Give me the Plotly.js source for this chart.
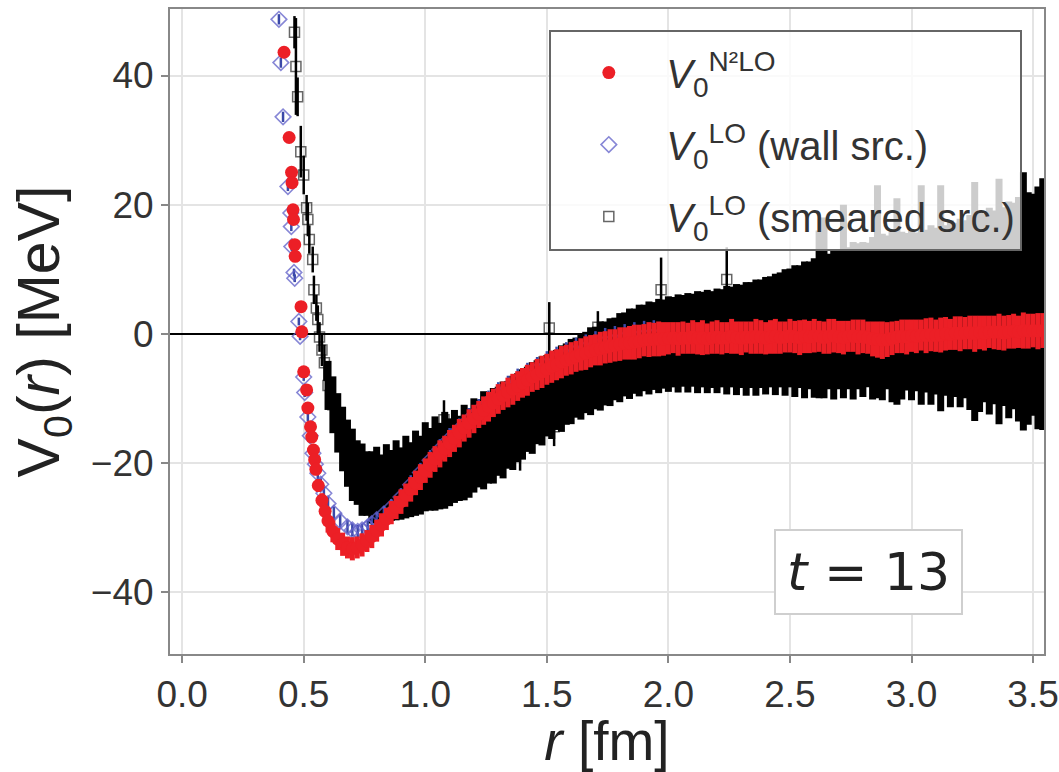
<!DOCTYPE html>
<html><head><meta charset="utf-8">
<script src="https://cdn.plot.ly/plotly-3.0.1.min.js"></script>
<style>html,body{margin:0;padding:0;background:#fff}#chart{width:1059px;height:772px}</style>
</head><body><div id="chart"></div>
<script>
// shared r grid (fm) for the dense part of the data
const rGrid = [
0.60,0.62,0.64,0.66,0.68,0.70,0.72,0.74,0.76,0.78,
0.80,0.82,0.84,0.86,0.88,0.90,0.92,0.94,0.96,0.98,
1.00,1.02,1.04,1.06,1.08,1.10,1.12,1.14,1.16,1.18,
1.20,1.22,1.24,1.26,1.28,1.30,1.32,1.34,1.36,1.38,
1.40,1.42,1.44,1.46,1.48,1.50,1.52,1.54,1.56,1.58,
1.60,1.62,1.64,1.66,1.68,1.70,1.72,1.74,1.76,1.78,
1.80,1.82,1.84,1.86,1.88,1.90,1.92,1.94,1.96,1.98,
2.00,2.02,2.04,2.06,2.08,2.10,2.12,2.14,2.16,2.18,
2.20,2.22,2.24,2.26,2.28,2.30,2.32,2.34,2.36,2.38,
2.40,2.42,2.44,2.46,2.48,2.50,2.52,2.54,2.56,2.58,
2.60,2.62,2.64,2.66,2.68,2.70,2.72,2.74,2.76,2.78,
2.80,2.82,2.84,2.86,2.88,2.90,2.92,2.94,2.96,2.98,
3.00,3.02,3.04,3.06,3.08,3.10,3.12,3.14,3.16,3.18,
3.20,3.22,3.24,3.26,3.28,3.30,3.32,3.34,3.36,3.38,
3.40,3.42,3.44,3.46,3.48,3.50,3.52,3.54];

// V0^{N2LO} (red)
const redWallR = [0.419,0.440,0.450,0.452,0.456,0.458,0.463,0.465,0.489,0.492,0.500,0.512,0.517,0.528,0.533,0.540,0.545,0.550,0.560,0.575,0.588];
const redWallV = [43.6,30.4,25.0,23.4,19.2,17.7,13.8,12.0,4.2,0.3,-5.9,-8.7,-11.5,-14.4,-16.0,-18.0,-19.5,-21.0,-23.5,-25.8,-27.5];
const redWallErr = [0.8,0.8,0.7,0.7,0.7,0.6,0.6,0.6,0.6,0.6,0.7,0.7,0.7,0.8,0.8,0.8,0.9,0.9,1.0,1.1,1.2];
const redGridV = [
-29.0,-30.6,-31.8,-32.6,-33.1,-33.3,-33.1,-32.7,-32.1,-31.4,
-30.5,-29.6,-28.7,-27.7,-26.9,-26.0,-25.0,-24.1,-23.1,-22.2,
-21.2,-20.3,-19.4,-18.6,-17.8,-17.0,-16.2,-15.4,-14.6,-13.9,
-13.2,-12.5,-11.9,-11.3,-10.7,-10.1,-9.6,-9.1,-8.6,-8.1,
-7.6,-7.2,-6.7,-6.3,-5.9,-5.5,-5.1,-4.8,-4.4,-4.1,
-3.8,-3.5,-3.2,-3.0,-2.7,-2.5,-2.3,-2.1,-1.9,-1.8,
-1.6,-1.5,-1.4,-1.3,-1.2,-1.0,-0.9,-0.9,-0.8,-0.8,
-0.7,-0.6,-0.8,-0.6,-0.7,-0.5,-0.7,-0.6,-0.8,-0.6,
-0.5,-0.7,-0.6,-0.4,-0.6,-0.7,-0.5,-0.6,-0.4,-0.5,
-0.7,-0.5,-0.4,-0.6,-0.5,-0.3,-0.5,-0.6,-0.4,-0.5,
-0.3,-0.4,-0.6,-0.4,-0.3,-0.5,-0.6,-0.4,-0.3,-0.5,
-0.4,-0.6,-0.8,-0.9,-1.0,-0.9,-0.7,-0.5,-0.4,-0.5,
-0.3,-0.4,-0.2,-0.3,-0.1,-0.3,-0.2,0.0,-0.1,0.1,
0.0,0.1,0.2,0.0,0.2,0.1,0.3,0.2,0.3,0.1,
0.3,0.4,0.3,0.5,0.4,0.5,0.4,0.5];
const redGridErr = [
1.8,1.7,1.7,1.8,1.7,1.8,1.7,1.8,1.7,1.8,
1.7,1.8,1.7,1.8,1.8,1.9,1.8,1.9,1.9,2.0,
1.9,2.0,2.0,2.1,2.0,2.1,2.1,2.2,2.1,2.2,
2.2,2.1,2.2,2.3,2.2,2.3,2.2,2.3,2.4,2.3,
2.3,2.4,2.3,2.4,2.5,2.4,2.5,2.4,2.5,2.4,
2.5,2.4,2.5,2.6,2.5,2.4,2.6,2.5,2.6,2.5,
2.6,2.5,2.6,2.7,2.6,2.5,2.7,2.6,2.7,2.6,
2.5,2.4,2.6,2.5,2.4,2.6,2.5,2.7,2.4,2.5,
2.6,2.5,2.4,2.7,2.5,2.6,2.4,2.5,2.7,2.6,
2.5,2.6,2.7,2.5,2.4,2.6,2.5,2.7,2.6,2.5,
2.6,2.4,2.5,2.7,2.6,2.5,2.6,2.4,2.5,2.7,
2.6,2.5,2.7,2.8,2.9,2.7,2.6,2.5,2.6,2.7,
2.5,2.6,2.4,2.7,2.6,2.5,2.7,2.6,2.4,2.6,
2.7,2.5,2.6,2.8,2.6,2.7,2.5,2.6,2.8,2.7,
2.6,2.7,2.5,2.8,2.7,2.6,2.8,2.7];

// V0^{LO} wall source (blue)
const blueR = [0.398,0.406,0.415,0.435,0.447,0.449,0.451,0.460,0.463,0.480,
0.485,0.500,0.504,0.517,0.527,0.538,0.548,0.558,0.570,0.583,
0.600,0.624,0.650,0.680,0.700,0.722,0.740,0.763,0.780,0.800,
0.830,0.86,0.90,0.94,0.98,1.02,1.06,1.10,1.14,1.18,
1.22,1.26,1.30,1.34,1.38,1.42,1.46,1.50,1.54,1.58,
1.62,1.66,1.70,1.74,1.78,1.82,1.86,1.90,1.94];
const blueV = [48.7,42.0,33.6,22.8,18.7,16.6,13.5,9.5,8.6,1.9,
-0.4,-6.7,-9.1,-12.9,-15.8,-18.5,-20.2,-21.6,-23.3,-24.7,
-26.3,-27.8,-29.0,-29.9,-30.4,-30.6,-30.4,-29.9,-29.4,-28.8,
-27.9,-26.9,-25.3,-23.4,-21.5,-19.6,-17.9,-16.3,-14.8,-13.3,
-11.9,-10.6,-9.4,-8.4,-7.4,-6.5,-5.6,-4.8,-4.1,-3.4,
-2.8,-2.3,-1.8,-1.4,-1.1,-0.8,-0.6,-0.4,-0.3];
const blueErr = [0.8,0.8,0.8,0.7,0.7,0.7,0.7,0.6,0.6,0.6,
0.6,0.6,0.7,0.7,0.8,0.8,0.8,0.9,0.9,1.0,
1.0,1.0,1.0,1.0,1.0,1.0,1.0,1.0,1.1,1.1,
1.2,1.3,1.4,1.5,1.5,1.6,1.6,1.7,1.7,1.8,
1.8,1.8,1.9,1.9,2.0,2.0,2.0,2.1,2.1,2.1,
2.2,2.2,2.2,2.3,2.3,2.3,2.4,2.4,2.4];

// V0^{LO} smeared source (black): sparse points + dense grid
const blackSparseR = [0.462,0.468,0.475,0.488,0.500,0.512,0.517,0.523,0.537,0.542,0.552,0.558,0.565,0.575,0.585,1.077,1.390,1.510,1.530,1.710,1.970,2.240];
const blackSparseV = [46.7,41.4,36.7,28.2,24.6,19.5,17.7,14.6,11.5,6.8,4.0,2.2,-0.5,-2.5,-4.5,-13.3,-17.2,0.9,-14.4,1.0,6.8,8.4];
const blackSparseErr = [2.5,7.5,3.0,4.0,3.0,2.0,2.6,2.2,2.0,2.2,2.0,2.2,2.3,2.5,2.8,3.0,4.0,4.0,3.0,2.5,5.0,5.0];
const blackGridV = [
-8.0,-11.0,-13.8,-16.3,-18.5,-20.3,-21.5,-22.6,-23.2,-23.8,
-23.3,-23.9,-23.1,-23.5,-22.7,-23.2,-22.2,-22.6,-21.6,-21.9,
-20.6,-21.0,-20.1,-20.5,-19.6,-19.9,-19.0,-19.3,-18.4,-18.5,
-17.3,-17.0,-16.5,-16.2,-15.8,-15.1,-14.9,-14.1,-13.8,-13.0,
-12.5,-11.7,-11.5,-10.6,-10.4,-9.6,-9.5,-8.7,-8.5,-7.8,
-7.4,-6.8,-6.6,-6.0,-5.8,-5.3,-5.0,-4.6,-4.4,-3.9,
-3.7,-3.2,-3.1,-2.7,-2.6,-2.2,-2.2,-1.9,-1.9,-1.6,
-1.6,-1.3,-1.5,-1.1,-1.4,-1.0,-1.3,-0.9,-1.2,-0.9,
-1.1,-0.7,-1.0,-0.5,-0.9,-0.4,-0.8,-0.2,-0.6,0.0,
-0.3,0.3,-0.1,0.6,0.2,0.9,0.4,1.1,0.6,1.3,
0.9,3.0,4.0,1.9,1.4,2.2,5.0,2.4,2.0,2.7,
2.2,2.9,2.4,6.5,2.6,3.3,2.7,5.0,2.8,3.4,
2.8,3.4,6.0,3.5,2.9,3.5,5.5,3.6,3.1,3.7,
3.2,3.8,3.3,5.0,3.4,4.0,3.5,4.1,5.0,4.2,
3.7,4.3,3.8,5.0,3.9,4.5,4.0,4.6];
const blackGridErr = [
3.8,4.4,4.6,5.0,5.2,5.6,5.0,5.6,5.0,5.6,
5.8,5.2,6.0,5.5,6.2,5.6,6.4,5.8,6.6,6.1,
6.9,6.4,7.3,6.7,7.5,6.8,7.2,6.6,7.4,6.9,
7.3,6.8,7.6,7.0,7.4,6.9,7.5,6.8,7.3,6.9,
7.0,6.6,7.1,6.5,6.9,6.3,6.8,6.2,6.7,6.3,
6.6,6.2,6.7,6.3,6.8,6.4,6.9,6.5,6.8,6.4,
6.9,6.5,7.0,6.6,7.1,6.7,7.2,6.8,7.3,6.9,
7.4,7.0,7.6,7.1,7.7,7.2,7.9,7.4,8.0,7.5,
8.1,7.6,8.4,7.8,8.6,8.0,8.8,8.2,9.0,8.4,
9.1,8.6,9.4,8.9,9.8,9.2,10.2,9.5,10.6,9.9,
10.8,13.0,14.0,10.5,11.6,10.8,15.0,11.0,12.2,11.3,
12.0,11.2,12.6,16.5,12.9,11.9,13.3,16.0,13.0,12.2,
13.1,12.3,17.0,12.6,13.9,12.9,17.5,13.2,14.5,13.5,
14.6,13.8,15.1,18.5,15.5,14.6,16.0,15.0,19.0,15.4,
16.8,16.0,17.4,20.0,18.0,17.2,18.8,19.5];

const xTickVals = [0,0.5,1.0,1.5,2.0,2.5,3.0,3.5];
const xTickText = ['0.0','0.5','1.0','1.5','2.0','2.5','3.0','3.5'];
const yTickVals = [-40,-20,0,20,40];
const yTickText = ['\u221240','\u221220','0','20','40'];

const seriesNames = [
  '<i>V</i><sub>0</sub><sup>N\u00b2LO</sup>',
  '<i>V</i><sub>0</sub><sup>LO</sup> (wall src.)',
  '<i>V</i><sub>0</sub><sup>LO</sup> (smeared src.)'
];

const FONT = 'Liberation Sans, Arial, Helvetica, sans-serif';

const traces = [
  {
    x: rGrid, y: blackGridV, type: 'scatter', mode: 'markers', showlegend: false, legendgroup: 'c',
    marker: {symbol: 'square-open', size: 10, color: 'rgba(0,0,0,0.6)', line: {width: 1.5}},
    error_y: {type: 'data', array: blackGridErr, color: '#000', thickness: 7, width: 0}
  },
  {
    x: blackSparseR, y: blackSparseV, type: 'scatter', mode: 'markers', name: seriesNames[2], legendrank: 3, legendgroup: 'c',
    marker: {symbol: 'square-open', size: 10, color: 'rgba(0,0,0,0.6)', line: {width: 1.5}},
    error_y: {type: 'data', array: blackSparseErr, color: '#000', thickness: 2.5, width: 0}
  },
  {
    x: blueR, y: blueV, type: 'scatter', mode: 'markers', name: seriesNames[1], legendrank: 2, legendgroup: 'b',
    marker: {symbol: 'diamond-open', size: 12, color: 'rgba(95,95,200,0.75)', line: {width: 1.6}},
    error_y: {type: 'data', array: blueErr, color: '#3a48a8', thickness: 2.5, width: 0}
  },
  {
    x: redWallR.concat(rGrid), y: redWallV.concat(redGridV), type: 'scatter', mode: 'markers', name: seriesNames[0], legendrank: 1, legendgroup: 'a',
    marker: {symbol: 'circle', size: 13, color: '#ec1f26'},
    error_y: {type: 'data', array: redWallErr.concat(redGridErr), color: '#ec1f26', thickness: 5, width: 0}
  }
];

const axisCommon = {
  showgrid: true, gridcolor: '#e4e4e4', gridwidth: 2,
  showline: true, linecolor: '#888', linewidth: 2, mirror: true,
  ticks: 'outside', ticklen: 7, tickwidth: 2, tickcolor: '#888',
  tickfont: {family: FONT, size: 37, color: '#333'},
  automargin: false
};

const layout = {
  width: 1059, height: 772,
  margin: {l: 170, r: 15, t: 9, b: 118},
  paper_bgcolor: '#fff', plot_bgcolor: '#fff',
  showlegend: true,
  xaxis: Object.assign({}, axisCommon, {
    range: [-0.05, 3.545], tickvals: xTickVals, ticktext: xTickText, zeroline: false,
    title: {text: '<i>r</i> [fm]', font: {family: FONT, size: 55, color: '#222'}, standoff: 10}
  }),
  yaxis: Object.assign({}, axisCommon, {
    range: [-49.6, 50.3], tickvals: yTickVals, ticktext: yTickText,
    zeroline: true, zerolinecolor: '#000', zerolinewidth: 2.5,
    title: {text: 'V<sub>0</sub>(<i>r</i>) [MeV]', font: {family: FONT, size: 59, color: '#222'}, standoff: 12}
  }),
  legend: {
    x: 0.434, y: 0.967, xanchor: 'left', yanchor: 'top',
    bgcolor: 'rgba(255,255,255,0.8)', bordercolor: '#666', borderwidth: 2,
    font: {family: FONT, size: 40, color: '#333'},
    title: {text: '&nbsp;', font: {size: 6}},
    itemwidth: 105, tracegroupgap: 17, valign: 'middle'
  },
  annotations: [{
    xref: 'paper', yref: 'paper', x: 0.799, y: 0.127, xanchor: 'center', yanchor: 'middle',
    text: '<i>t</i> = 13', showarrow: false,
    font: {family: 'DejaVu Sans, sans-serif', size: 52, color: '#222'},
    bgcolor: '#fff', bordercolor: '#cfcfcf', borderwidth: 2, borderpad: 11
  }]
};

Plotly.newPlot('chart', traces, layout, {staticPlot: true, displayModeBar: false});
</script>
</body></html>
